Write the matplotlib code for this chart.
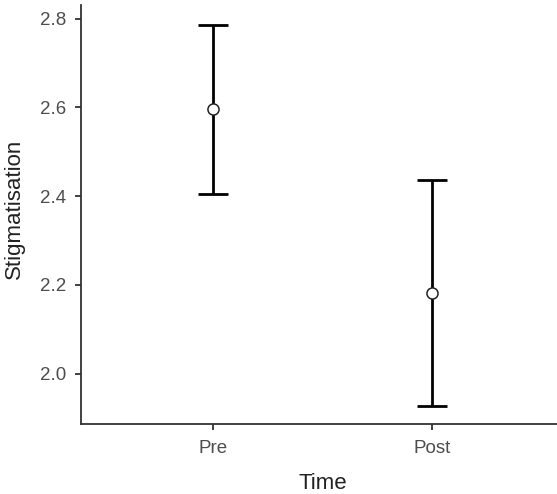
import matplotlib
matplotlib.use("Agg")
import matplotlib.pyplot as plt

categories = ["Pre", "Post"]
means = [2.596, 2.183]
upper = [2.786, 2.436]
lower = [2.404, 1.928]
yticks = [2.0, 2.2, 2.4, 2.6, 2.8]
ytick_labels = ["2.0", "2.2", "2.4", "2.6", "2.8"]

plt.rcParams['font.family'] = ['Liberation Sans', 'DejaVu Sans']

W, H = 557, 494
fig = plt.figure(figsize=(W / 100, H / 100), dpi=100)
ax = fig.add_axes([81 / W, 69.7 / H, (563.7 - 81) / W, (424.3 - 5) / H])

x = list(range(1, len(categories) + 1))
yerr_low = [m - l for m, l in zip(means, lower)]
yerr_up = [u - m for m, u in zip(means, upper)]
ax.errorbar(x, means, yerr=[yerr_low, yerr_up], fmt='none', ecolor='black',
            elinewidth=2.0, capsize=11, capthick=2.0, zorder=2)
ax.plot(x, means, 'o', markersize=8, markerfacecolor='white',
        markeredgecolor='#222222', markeredgewidth=1.1, zorder=3)

ax.set_xlim(0.4, 2.6)
ax.set_ylim(1.886, 2.831)
ax.set_xticks(x)
ax.set_xticklabels(categories)
ax.set_yticks(yticks)
ax.set_yticklabels(ytick_labels)

for side in ['top', 'right']:
    ax.spines[side].set_visible(False)
for side in ['left', 'bottom']:
    ax.spines[side].set_color('#333333')
    ax.spines[side].set_linewidth(1.3)

ax.tick_params(axis='both', colors='#333333', length=4, width=1.3,
               labelsize=13.5, labelcolor='#4D4D4D')
ax.tick_params(axis='x', pad=7.5)
ax.tick_params(axis='y', pad=6.5)

fig.text(323 / W, 4.7 / H, "Time", ha='center', va='baseline', fontsize=16, color='#222222')
fig.text(14.5 / W, 1 - 208.7 / H, "Stigmatisation", ha='center', va='center', rotation=90,
         fontsize=16, color='#222222')

fig.savefig("out.png", dpi=100)
